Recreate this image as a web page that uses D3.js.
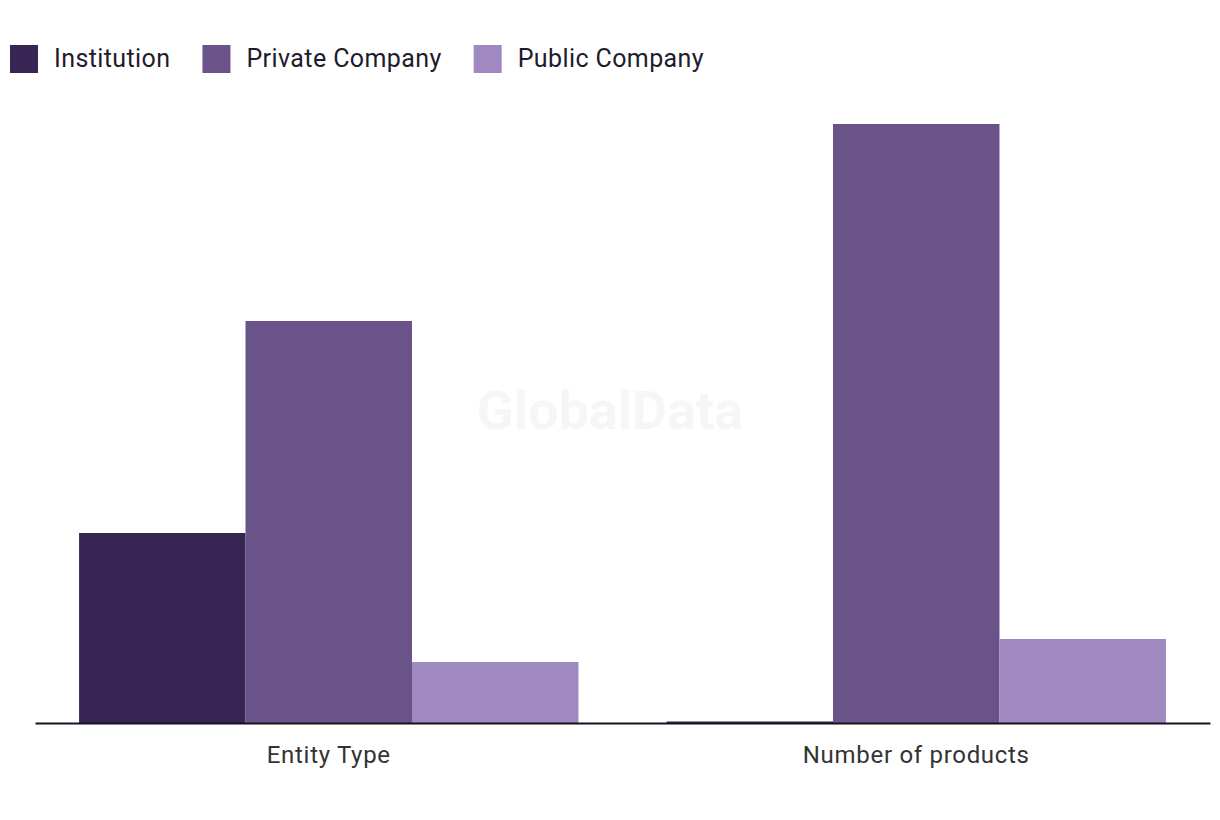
<!DOCTYPE html>
<html>
<head>
<meta charset="utf-8">
<script src="https://cdn.jsdelivr.net/npm/d3@7"></script>
<style>
    body { margin: 0; background: #fff; }
    text { font-family: Roboto, "Noto Sans", sans-serif; }
</style>
</head>
<body>
<div id="chart"></div>
<script>
// chart data
const categories = ['Entity Type', 'Number of products'];
const seriesNames = ['Institution', 'Private Company', 'Public Company'];
const institution = [19.0, 0.15];
const privateCompany = [40.2, 59.9];
const publicCompany = [6.1, 8.4];
const seriesColors = ['#372554', '#6a5389', '#a088c0'];

const width = 1220, height = 820;
const margin = { top: 123, right: 10, bottom: 97, left: 35 };

const svg = d3.select('#chart').append('svg')
    .attr('width', width)
    .attr('height', height);

// watermark
svg.append('text')
    .attr('x', 610).attr('y', 429)
    .attr('text-anchor', 'middle')
    .style('font-weight', 'bold')
    .style('font-size', '54px')
    .attr('fill', '#f6f6f6')
    .text('GlobalData');

const values = [institution, privateCompany, publicCompany];
const rows = categories.map((c, i) => ({
    category: c,
    vals: seriesNames.map((s, j) => ({ key: s, value: values[j][i], color: seriesColors[j] }))
}));

const x0 = d3.scaleBand().domain(categories)
    .range([margin.left, width - margin.right])
    .paddingInner(0.15).paddingOuter(0.075);
const x1 = d3.scaleBand().domain(seriesNames).range([0, x0.bandwidth()]);
const y = d3.scaleLinear().domain([0, 60]).range([height - margin.bottom, margin.top]);

const groups = svg.selectAll('.group').data(rows).enter().append('g')
    .attr('class', 'group')
    .attr('transform', d => `translate(${x0(d.category)},0)`);

groups.selectAll('rect').data(d => d.vals).enter().append('rect')
    .attr('x', d => x1(d.key))
    .attr('width', x1.bandwidth())
    .attr('y', d => y(d.value))
    .attr('height', d => y(0) - y(d.value))
    .attr('fill', d => d.color);

// x axis
const xAxis = svg.append('g')
    .attr('transform', `translate(0,${y(0)})`)
    .call(d3.axisBottom(x0).tickSize(0).tickPadding(23));
xAxis.select('.domain').attr('stroke', '#14121f').attr('stroke-width', 2);
xAxis.selectAll('text')
    .style('font-size', '24px')
    .style('font-family', 'Roboto, sans-serif')
    .style('letter-spacing', '0.7px')
    .attr('fill', '#333');

// legend
const legend = svg.append('g').attr('transform', 'translate(10,45)');
let lx = 0;
seriesNames.forEach((s, i) => {
    const item = legend.append('g').attr('transform', `translate(${lx},0)`);
    item.append('rect').attr('width', 28).attr('height', 28).attr('fill', seriesColors[i]);
    const t = item.append('text')
        .attr('x', 44).attr('y', 22)
        .style('font-size', '25px')
        .style('letter-spacing', '0.4px')
        .attr('fill', '#1f1b2e')
        .text(s);
    lx += 44 + t.node().getComputedTextLength() + 32;
});
</script>
</body>
</html>
